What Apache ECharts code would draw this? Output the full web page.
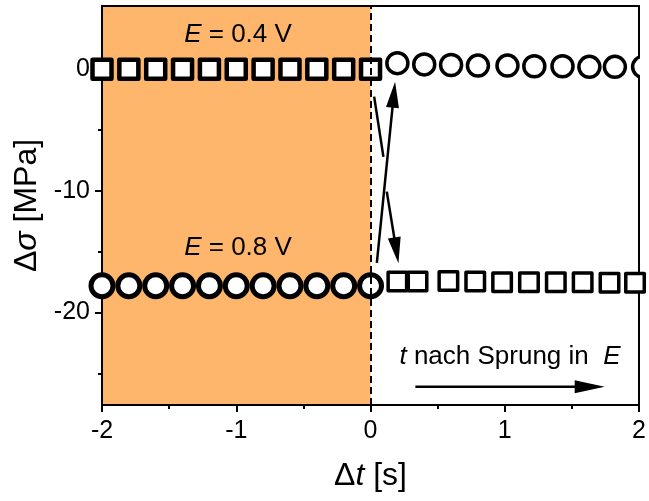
<!DOCTYPE html>
<html>
<head>
<meta charset="utf-8">
<script src="https://cdn.jsdelivr.net/npm/echarts@6/dist/echarts.min.js"></script>
<style>
  html, body { margin: 0; padding: 0; background: #fff; }
  #chart { width: 649px; height: 501px; }
</style>
</head>
<body>
<div id="chart"></div>
<script>
// Stress change before and after a potential step (E = 0.4 V <-> 0.8 V)
const xBefore        = [-2, -1.8, -1.6, -1.4, -1.2, -1, -0.8, -0.6, -0.4, -0.2, 0];
const stressBefore04 = [0, 0, 0, 0, 0, 0, 0, 0, 0, 0, 0];
const stressBefore08 = [-17.8, -17.8, -17.8, -17.8, -17.8, -17.8, -17.8, -17.8, -17.8, -17.8, -17.8];

const xAfterCircles  = [0.2, 0.4, 0.6, 0.8, 1.02, 1.22, 1.43, 1.63, 1.82, 2.03];
const stressAfter04  = [0.5, 0.4, 0.35, 0.3, 0.3, 0.25, 0.25, 0.2, 0.2, 0.2];

const xAfterSquares  = [0.2, 0.35, 0.58, 0.78, 0.98, 1.18, 1.38, 1.58, 1.78, 1.97];
const stressAfter08  = [-17.45, -17.45, -17.4, -17.45, -17.5, -17.5, -17.5, -17.5, -17.55, -17.55];

// axis layout (data units)
const xRange = [-2, 2];
const yRange = [-27.6, 5.2];
const yMajorTicks = [-20, -10, 0];
const yMinorTicks = [-25, -15, -5];
const stepRegion = [-2, 0];   // shaded interval before the step
const stepTime = 0;

// annotation arrows in data units: [x1, y1, x2, y2]
const jumpArrowHeads = [
  [0.047, -15.92, 0.183, -1.02],
  [0.121, -10.06, 0.208, -15.94]
];
const jumpArrowTail = [
  [0.027, -2.25, 0.096, -7.2]
];
const timeArrow = [
  [0.334, -26.1, 1.744, -26.1]
];

const FONT = '"Liberation Sans", Arial, sans-serif';
const BLACK = '#000';

function pairs(xs, ys) { return xs.map((x, i) => [x, ys[i]]); }

function arrowSeries(data, headLen, headWidth, lineWidth) {
  return {
    type: 'custom',
    data: data,
    z: 4,
    silent: true,
    clip: false,
    encode: { x: [0, 2], y: [1, 3] },
    renderItem: function (params, api) {
      const a = api.coord([api.value(0), api.value(1)]);
      const b = api.coord([api.value(2), api.value(3)]);
      const dx = b[0] - a[0], dy = b[1] - a[1];
      const len = Math.sqrt(dx * dx + dy * dy);
      const ux = dx / len, uy = dy / len;
      const children = [];
      if (headLen > 0) {
        const bx = b[0] - ux * headLen, by = b[1] - uy * headLen;
        const nx = -uy * headWidth / 2, ny = ux * headWidth / 2;
        children.push({
          type: 'line',
          shape: { x1: a[0], y1: a[1], x2: bx + ux * 2, y2: by + uy * 2 },
          style: { stroke: BLACK, lineWidth: lineWidth }
        });
        children.push({
          type: 'polygon',
          shape: { points: [[b[0], b[1]], [bx + nx, by + ny], [bx - nx, by - ny]] },
          style: { fill: BLACK }
        });
      } else {
        children.push({
          type: 'line',
          shape: { x1: a[0], y1: a[1], x2: b[0], y2: b[1] },
          style: { stroke: BLACK, lineWidth: lineWidth }
        });
      }
      return { type: 'group', children: children };
    }
  };
}

function richText(size) {
  return {
    n: { fontSize: size, fontFamily: FONT, color: BLACK, fill: BLACK },
    i: { fontSize: size, fontFamily: FONT, color: BLACK, fill: BLACK, fontStyle: 'italic' }
  };
}

const axisLineStyle = { color: BLACK, width: 2 };
const tickFont = { fontSize: 25, color: BLACK, fontFamily: FONT };

const chart = echarts.init(document.getElementById('chart'), null, { renderer: 'canvas' });

chart.setOption({
  animation: false,
  backgroundColor: '#fff',
  grid: { left: 102, right: 8, top: 6, bottom: 96, containLabel: false },
  xAxis: [
    {
      type: 'value', min: xRange[0], max: xRange[1], interval: 1, position: 'bottom', z: 2,
      axisLine: { show: true, onZero: false, lineStyle: axisLineStyle },
      axisTick: { show: true, length: 7, lineStyle: axisLineStyle },
      minorTick: { show: true, splitNumber: 2, length: 4, lineStyle: axisLineStyle },
      axisLabel: Object.assign({ margin: 14 }, tickFont),
      splitLine: { show: false },
      name: '{n|Δ}{i|t}{n| [s]}',
      nameLocation: 'middle',
      nameGap: 55,
      nameTextStyle: { rich: richText(32) }
    },
    {
      type: 'value', min: xRange[0], max: xRange[1], position: 'top', z: 2,
      axisLine: { show: true, onZero: false, lineStyle: axisLineStyle },
      axisTick: { show: false }, axisLabel: { show: false }, splitLine: { show: false }
    }
  ],
  yAxis: [
    {
      type: 'value', min: yRange[0], max: yRange[1], position: 'left', z: 2,
      axisLine: { show: true, onZero: false, lineStyle: axisLineStyle },
      axisTick: { show: true, length: 7, lineStyle: axisLineStyle, customValues: yMajorTicks },
      axisLabel: Object.assign({ margin: 12, customValues: yMajorTicks }, tickFont),
      splitLine: { show: false },
      name: '{n|Δ}{i|σ}{n| [MPa]}',
      nameLocation: 'middle',
      nameGap: 53,
      nameRotate: 90,
      nameTextStyle: { rich: richText(32) }
    },
    {
      type: 'value', min: yRange[0], max: yRange[1], position: 'left', z: 2,
      axisLine: { show: true, onZero: false, lineStyle: axisLineStyle },
      axisTick: { show: true, length: 4, lineStyle: axisLineStyle, customValues: yMinorTicks },
      axisLabel: { show: false }, splitLine: { show: false }
    },
    {
      type: 'value', min: yRange[0], max: yRange[1], position: 'right', z: 2,
      axisLine: { show: true, onZero: false, lineStyle: axisLineStyle },
      axisTick: { show: false }, axisLabel: { show: false }, splitLine: { show: false }
    }
  ],
  series: [
    {
      // shaded interval and step marker
      type: 'line', data: [], z: 1, silent: true,
      markArea: {
        silent: true,
        itemStyle: { color: '#FDB66B', opacity: 1 },
        data: [[{ xAxis: stepRegion[0] }, { xAxis: stepRegion[1] }]]
      },
      markLine: {
        silent: true, symbol: 'none',
        label: { show: false },
        lineStyle: { color: BLACK, width: 2, type: [7, 4] },
        data: [{ xAxis: stepTime }]
      }
    },
    {
      name: 'E = 0.4 V before', type: 'scatter', z: 3, clip: false,
      data: pairs(xBefore, stressBefore04),
      symbol: 'rect', symbolSize: 19,
      itemStyle: { color: '#fff', opacity: 1, borderColor: BLACK, borderWidth: 4.5, borderJoin: 'round' }
    },
    {
      name: 'E = 0.8 V before', type: 'scatter', z: 3, clip: false,
      data: pairs(xBefore, stressBefore08),
      symbol: 'circle', symbolSize: 22,
      itemStyle: { color: '#fff', opacity: 1, borderColor: BLACK, borderWidth: 5 }
    },
    {
      name: 'E = 0.4 V after', type: 'custom', z: 3, clip: true,
      data: pairs(xAfterCircles, stressAfter04),
      encode: { x: 0, y: 1 },
      renderItem: function (params, api) {
        const p = api.coord([api.value(0), api.value(1)]);
        return {
          type: 'circle',
          shape: { cx: p[0], cy: p[1], r: 10.5 },
          style: { fill: '#fff', stroke: BLACK, lineWidth: 3.5 }
        };
      }
    },
    {
      name: 'E = 0.8 V after', type: 'scatter', z: 3, clip: false,
      data: pairs(xAfterSquares, stressAfter08),
      symbol: 'rect', symbolSize: 18.5,
      itemStyle: { color: '#fff', opacity: 1, borderColor: BLACK, borderWidth: 3.5, borderJoin: 'round' }
    },
    arrowSeries(jumpArrowHeads, 26, 13, 2.5),
    arrowSeries(jumpArrowTail, 0, 0, 2.5),
    arrowSeries(timeArrow, 30, 13, 2.5)
  ],
  graphic: [
    {
      type: 'text', x: 238, y: 35, z: 10,
      style: { text: '{i|E}{n| = 0.4 V}', align: 'center', verticalAlign: 'middle', rich: richText(26) }
    },
    {
      type: 'text', x: 238, y: 248, z: 10,
      style: { text: '{i|E}{n| = 0.8 V}', align: 'center', verticalAlign: 'middle', rich: richText(26) }
    },
    {
      type: 'text', x: 510, y: 357, z: 10,
      style: { text: '{i|t}{n| nach Sprung in  }{i|E}', align: 'center', verticalAlign: 'middle', rich: richText(26) }
    }
  ]
});
</script>
</body>
</html>
